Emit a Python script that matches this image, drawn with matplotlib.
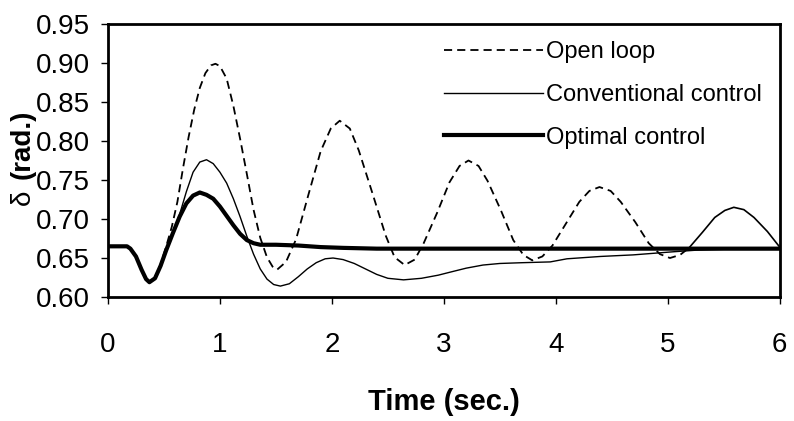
import numpy as np
import matplotlib
matplotlib.use("Agg")
from matplotlib import pyplot as plt

plt.rcParams['font.family'] = ['Liberation Sans', 'DejaVu Sans']

# rotor angle response, time in seconds, delta in rad
t_open = [0, 0.17, 0.20, 0.25, 0.30, 0.34, 0.37,
          0.42, 0.47, 0.52, 0.57, 0.62, 0.67, 0.72, 0.77, 0.82, 0.87, 0.92, 0.96,
          1.00, 1.06, 1.12, 1.18, 1.24, 1.30, 1.36, 1.42, 1.47, 1.51,
          1.59, 1.68, 1.79, 1.90, 1.99, 2.07,
          2.16, 2.24, 2.36, 2.48, 2.56, 2.65,
          2.74, 2.82, 2.94, 3.05, 3.14, 3.22,
          3.31, 3.39, 3.51, 3.62, 3.71, 3.79,
          3.88, 3.97, 4.09, 4.21, 4.30, 4.39,
          4.49, 4.58, 4.71, 4.83, 4.93, 5.02,
          5.11, 5.19, 5.31, 5.42, 5.51, 5.59,
          5.68, 5.77, 5.89, 6.00]
d_open = [0.665, 0.665, 0.662, 0.652, 0.635, 0.623, 0.619,
          0.625, 0.642, 0.665, 0.690, 0.722, 0.765, 0.805, 0.840, 0.868, 0.887, 0.897, 0.899,
          0.896, 0.880, 0.845, 0.803, 0.758, 0.712, 0.676, 0.651, 0.639, 0.635,
          0.645, 0.674, 0.731, 0.787, 0.816, 0.826,
          0.816, 0.788, 0.734, 0.679, 0.651, 0.641,
          0.648, 0.669, 0.708, 0.747, 0.768, 0.775,
          0.768, 0.749, 0.711, 0.673, 0.654, 0.647,
          0.652, 0.666, 0.694, 0.722, 0.736, 0.741,
          0.736, 0.722, 0.696, 0.669, 0.655, 0.650,
          0.654, 0.663, 0.683, 0.702, 0.711, 0.715,
          0.712, 0.702, 0.684, 0.664]

t_conv = [0, 0.17, 0.20, 0.25, 0.30, 0.34, 0.37,
          0.42, 0.47, 0.52, 0.58, 0.64, 0.70, 0.76, 0.82, 0.88, 0.94,
          1.00, 1.06, 1.12, 1.18, 1.24, 1.30, 1.36, 1.42, 1.48, 1.54,
          1.62, 1.70, 1.78, 1.86, 1.94, 2.01,
          2.10, 2.20, 2.30, 2.40, 2.50, 2.64,
          2.80, 2.95, 3.06, 3.20, 3.35, 3.50, 3.70, 3.95,
          4.10, 4.40, 4.69, 5.05, 5.25, 5.50, 6.00]
d_conv = [0.665, 0.665, 0.662, 0.652, 0.635, 0.623, 0.619,
          0.624, 0.640, 0.660, 0.683, 0.706, 0.735, 0.760, 0.773, 0.776, 0.771,
          0.760, 0.746, 0.726, 0.703, 0.678, 0.655, 0.636, 0.623, 0.616, 0.614,
          0.617, 0.626, 0.636, 0.644, 0.649, 0.650,
          0.648, 0.643, 0.636, 0.629, 0.624, 0.622,
          0.624, 0.628, 0.632, 0.637, 0.641, 0.643, 0.644, 0.645,
          0.649, 0.652, 0.654, 0.658, 0.660, 0.661, 0.661]

t_opt = [0, 0.17, 0.20, 0.25, 0.30, 0.34, 0.37,
         0.42, 0.47, 0.52, 0.58, 0.64, 0.70, 0.76, 0.82, 0.88, 0.94,
         1.00, 1.06, 1.12, 1.18, 1.24, 1.30, 1.36,
         1.50, 1.70, 1.90, 2.10, 2.40, 3.00, 4.00, 5.00, 6.00]
d_opt = [0.665, 0.665, 0.662, 0.652, 0.635, 0.623, 0.619,
         0.624, 0.640, 0.660, 0.682, 0.703, 0.720, 0.730, 0.734, 0.731, 0.726,
         0.716, 0.704, 0.692, 0.681, 0.673, 0.669, 0.667,
         0.667, 0.666, 0.664, 0.663, 0.662, 0.662, 0.662, 0.662, 0.662]

labels = ["Open loop", "Conventional control", "Optimal control"]
x_ticks = [0, 1, 2, 3, 4, 5, 6]
y_ticks = [0.60, 0.65, 0.70, 0.75, 0.80, 0.85, 0.90, 0.95]

t_open = np.array(t_open)
d_open = np.array(d_open)
# last swing of the open-loop trace is printed as a continuous line
head = t_open <= 5.19
tail = t_open >= 5.19

fig = plt.figure(figsize=(7.94, 4.21), dpi=100)
ax = fig.add_axes([0.136, 0.2945, 0.846, 0.6485])

ax.plot(t_open[head], d_open[head], color="black", lw=1.3,
        linestyle=(0, (4.5, 2.8)), label=labels[0])
ax.plot(t_open[tail], d_open[tail], color="black", lw=1.2)
ax.plot(t_conv, d_conv, color="black", lw=1.0, label=labels[1])
ax.plot(t_opt, d_opt, color="black", lw=3.0, label=labels[2])

ax.set_xlim(0, 6)
ax.set_ylim(0.60, 0.95)
ax.set_xticks(x_ticks)
ax.set_yticks(y_ticks)
ax.set_yticklabels(["%.2f" % v for v in y_ticks])

for s in ax.spines.values():
    s.set_linewidth(2.0)
ax.tick_params(axis="x", direction="out", length=5, width=1, pad=20, labelsize=20)
ax.tick_params(axis="y", direction="out", length=5, width=1, pad=8, labelsize=20)

ax.set_xlabel("Time (sec.)", fontsize=21, fontweight="bold", labelpad=22)
fig.text(23 / 794, 1 - 197 / 421, "δ", rotation=90, ha="center", va="center",
         fontsize=20)
fig.text(23 / 794, 1 - 144 / 421, "(rad.)", rotation=90, ha="center", va="center",
         fontsize=20, fontweight="bold")

ax.legend(loc="upper left", bbox_to_anchor=(444 / 794, 1 - 41 / 421),
          bbox_transform=fig.transFigure, frameon=False, fontsize=17,
          handlelength=4.2, handletextpad=0.1, borderpad=0, borderaxespad=0,
          labelspacing=0.88)

fig.savefig("out.png", dpi=100)
